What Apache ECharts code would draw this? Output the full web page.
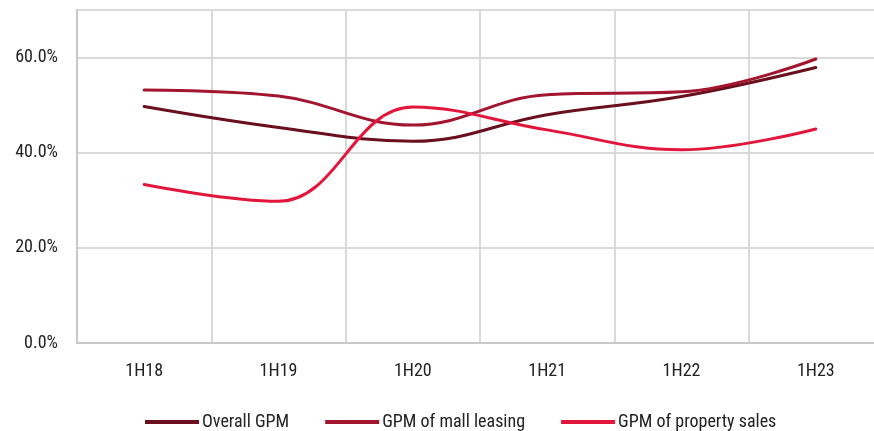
<!DOCTYPE html>
<html><head><meta charset="utf-8">
<script src="https://cdn.jsdelivr.net/npm/echarts@6/dist/echarts.min.js"></script>
<style>html,body{margin:0;padding:0;background:#fff;overflow:hidden}#c{width:900px;height:431px}</style>
</head><body><div id="c"></div>
<script>
const categories = ['1H18','1H19','1H20','1H21','1H22','1H23'];
const overallGPM = [49.7, 45.3, 42.4, 48.0, 51.8, 57.9];
const mallLeasingGPM = [53.2, 51.9, 45.8, 52.2, 52.8, 59.7];
const propertySalesGPM = [33.3, 29.8, 49.6, 44.8, 40.6, 45.0];
const yTicks = [0, 20, 40, 60];

const font = '"Roboto Condensed", "Liberation Sans Narrow", "Arial Narrow", sans-serif';
const chart = echarts.init(document.getElementById('c'));
const mk = (name, data, color) => ({
  name, type: 'line', data, smooth: 0.4, symbol: 'none',
  lineStyle: { width: 3, color, cap: 'round' }, itemStyle: { color }
});
chart.setOption({
  animation: false,
  textStyle: { fontFamily: font },
  grid: { left: 77, right: 17, top: 10, bottom: 88, containLabel: false },
  legend: {
    top: 408, left: 140, itemWidth: 54, itemHeight: 4, itemGap: 36,
    icon: 'rect',
    textStyle: { fontFamily: font, fontSize: 18, color: '#222', padding: [0, 0, 0, -2] },
    data: ['Overall GPM', 'GPM of mall leasing', 'GPM of property sales']
  },
  xAxis: {
    type: 'category', data: categories, boundaryGap: true,
    axisLine: { lineStyle: { color: '#c8c8c8', width: 2 } },
    axisTick: { show: false },
    splitLine: { show: true, lineStyle: { color: '#d9d9d9', width: 2 } },
    axisLabel: { fontFamily: font, fontSize: 18, color: '#222', margin: 19 }
  },
  yAxis: {
    type: 'value', min: 0, max: 70, interval: 20,
    axisLine: { show: true, lineStyle: { color: '#c8c8c8', width: 2 } },
    axisTick: { show: false },
    splitLine: { show: true, lineStyle: { color: '#d9d9d9', width: 2 } },
    axisLabel: {
      fontFamily: font, fontSize: 18, color: '#222', margin: 19,
      formatter: v => yTicks.includes(v) ? v.toFixed(1) + '%' : ''
    }
  },
  series: [
    mk('Overall GPM', overallGPM, '#6a0f1e'),
    mk('GPM of mall leasing', mallLeasingGPM, '#a3142e'),
    mk('GPM of property sales', propertySalesGPM, '#e2163a')
  ]
});
</script></body></html>
